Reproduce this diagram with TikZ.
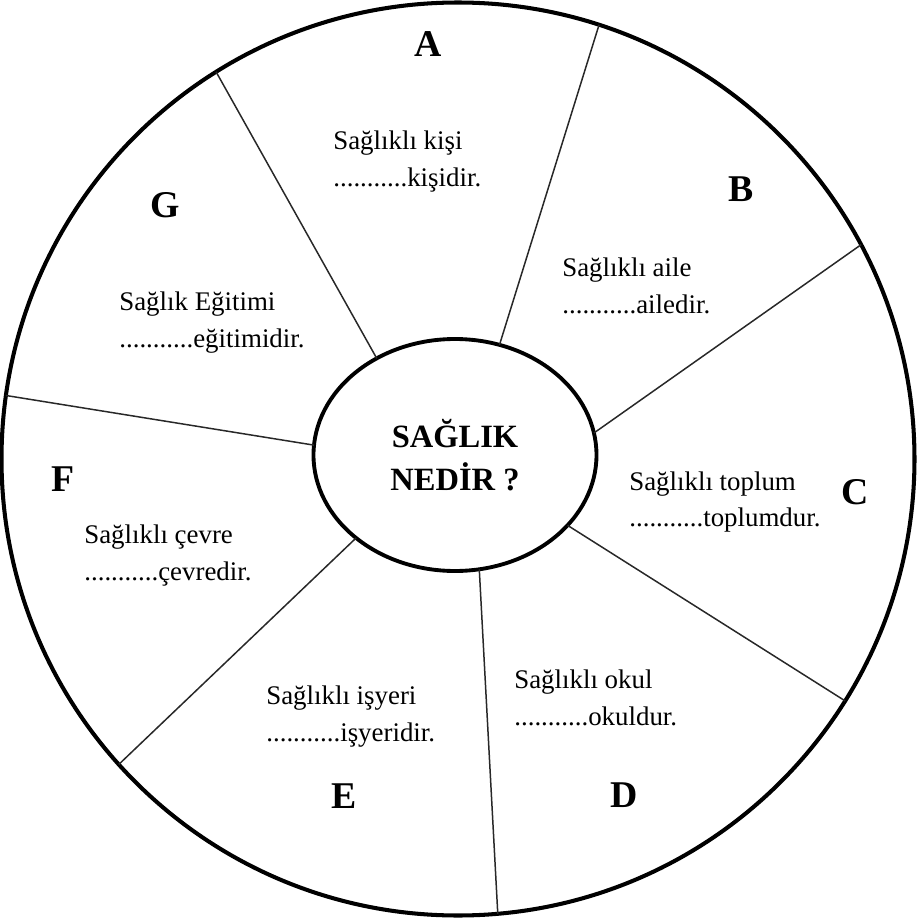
\documentclass[tikz,border=0pt]{standalone}
\usepackage{fontspec}
\setmainfont{Liberation Serif}
\usepackage{tikz}
\usetikzlibrary{shapes.geometric, positioning}
\definecolor{myline}{RGB}{40,40,40}
\tikzset{
  rim/.style={circle, draw=black, line width=2.3pt,
    minimum size=18.26cm, inner sep=0pt, outer sep=0pt},
  hubnode/.style={ellipse, draw=black, line width=2.2pt,
    minimum width=5.66cm, minimum height=4.64cm, inner sep=0pt, outer sep=0pt,
    align=center, font=\fontsize{18.5}{24.5}\selectfont\bfseries},
  spoke/.style={line width=0.85pt, color=myline},
  tagnode/.style={font=\fontsize{21.5}{24}\selectfont\bfseries, inner sep=0pt},
  textblock/.style={anchor=west, align=left, inner sep=0pt,
    font=\fontsize{15.3}{21}\selectfont}
}

\begin{document}
\begin{tikzpicture}
  \useasboundingbox (-9.16,-9.20) rectangle (9.18,9.18);

  % Outer wheel and hub
  \node[rim] (wheel) at (0,0) {};
  \node[hubnode] (hub) at (-0.06,0.08) {SAĞLIK\\NEDİR ?};

  % Spokes
  \draw[spoke] (hub.129) -- (wheel.122);
  \draw[spoke] (hub.68) -- (wheel.72);
  \draw[spoke] (hub.9) -- (wheel.28);
  \draw[spoke] (hub.-32) -- (wheel.-32);
  \draw[spoke] (hub.-78) -- (wheel.-85);
  \draw[spoke] (hub.220) -- (wheel.222);
  \draw[spoke] (hub.176) -- (wheel.172);

  % Segment letters
  \node[tagnode] (tagA) at (-0.60, 8.30) {A};
  \node[tagnode] (tagB) at (5.66, 5.40) {B};
  \node[tagnode] (tagC) at (7.94, -0.66) {C};
  \node[tagnode] (tagD) at (3.32, -6.72) {D};
  \node[tagnode] (tagE) at (-2.28, -6.74) {E};
  \node[tagnode] (tagF) at (-7.90, -0.40) {F};
  \node[tagnode] (tagG) at (-5.86, 5.08) {G};

  % Segment texts
  \node[textblock] (kisi) at (-2.50, 5.95) {Sağlıklı kişi\\...........kişidir.};
  \node[textblock] (aile) at (2.08, 3.46) {Sağlıklı aile\\...........ailedir.};
  \node[textblock] (toplum) at (3.42, -0.86) {Sağlıklı toplum\\...........toplumdur.};
  \node[textblock] (okul) at (1.12, -4.77) {Sağlıklı okul\\...........okuldur.};
  \node[textblock] (isyeri) at (-3.84, -5.15) {Sağlıklı işyeri\\...........işyeridir.};
  \node[textblock] (cevre) at (-7.48, -1.93) {Sağlıklı çevre\\...........çevredir.};
  \node[textblock] (egitim) at (-6.78, 2.73) {Sağlık Eğitimi\\...........eğitimidir.};
\end{tikzpicture}
\end{document}
